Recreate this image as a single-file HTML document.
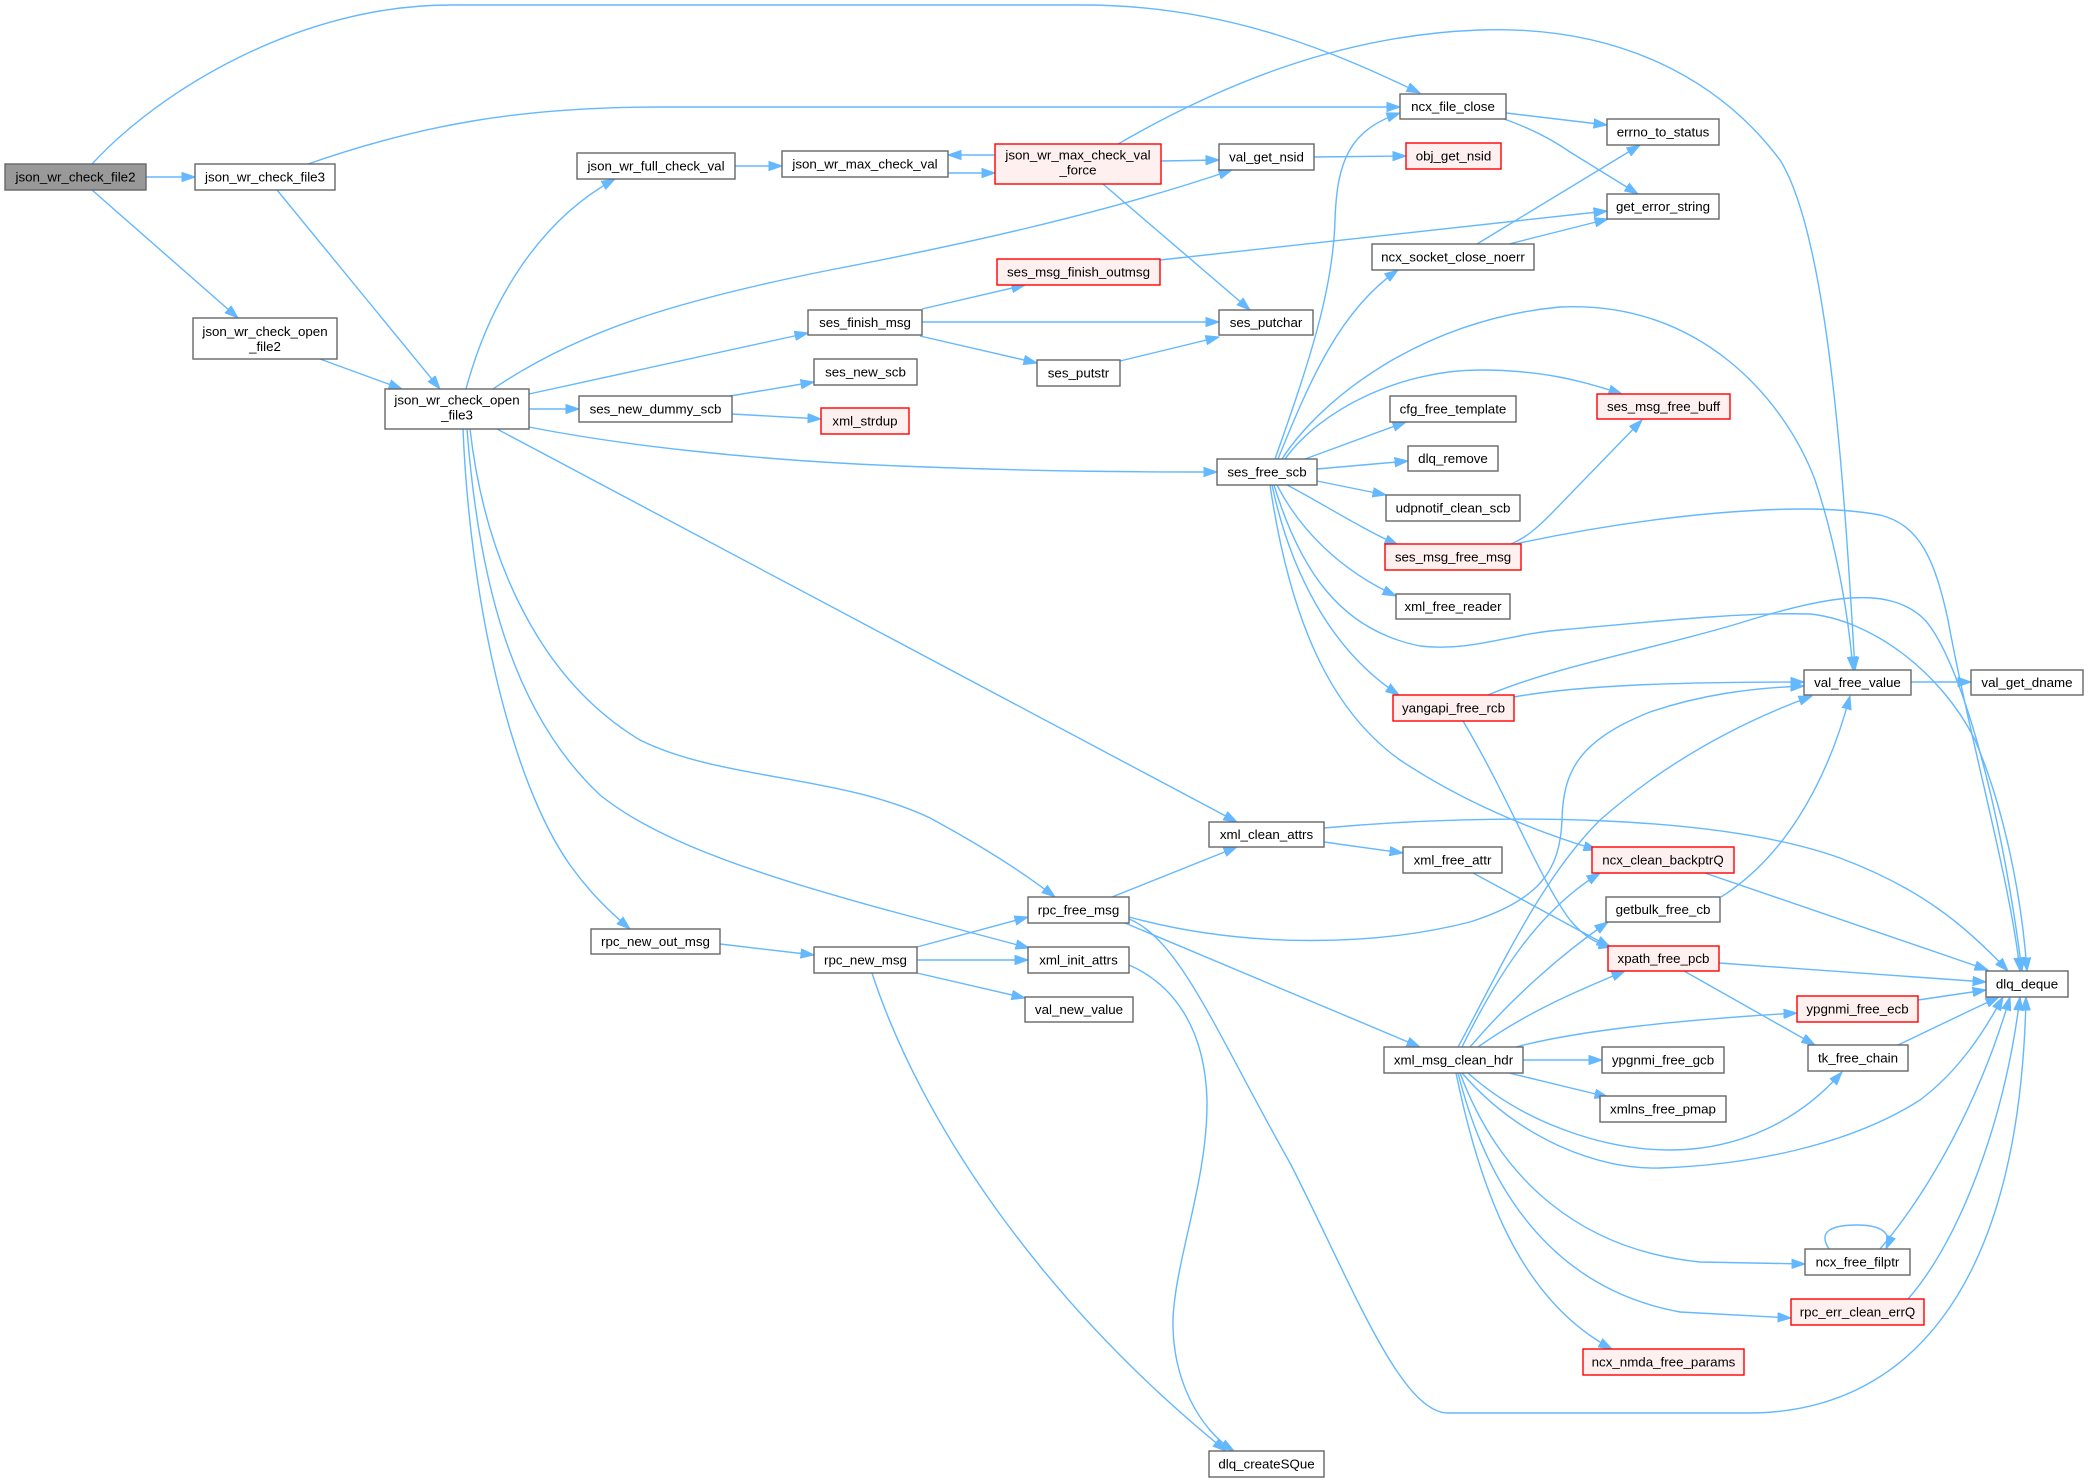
<!DOCTYPE html>
<html><head><meta charset="utf-8"><style>
html,body{margin:0;padding:0;background:#fff;}
svg{display:block;}
.e{fill:none;stroke:#63b8ff;stroke-width:1.4;}
.n{fill:#fff;stroke:#666;stroke-width:1.4;}
.r{fill:#fff0f0;stroke:#ff0000;stroke-width:1.4;}
.g{fill:#999;stroke:#666;stroke-width:1.4;}
text{font-family:"Liberation Sans",Arial,sans-serif;font-size:13.33px;fill:#000;text-anchor:middle;}
</style></head><body>
<svg width="2088" height="1482" viewBox="0 0 2088 1482" xmlns="http://www.w3.org/2000/svg">
<defs><marker id="a" viewBox="0 0 14 10" refX="13.5" refY="5" markerWidth="14" markerHeight="10" orient="auto" markerUnits="userSpaceOnUse"><path d="M0,0.3 L13.5,5 L0,9.7 z" fill="#63b8ff" stroke="#63b8ff" stroke-width="1"/></marker></defs>
<g marker-end="url(#a)">
<path class="e" d="M92,164 C160,90 300,5 450,5 L1083,5 C1230,5 1340,55 1420,93"/>
<path class="e" d="M146,177 L195,177"/>
<path class="e" d="M92,190 L238,318"/>
<path class="e" d="M308,164 C420,125 520,107 660,107 L1400,107"/>
<path class="e" d="M277,190 L440,389"/>
<path class="e" d="M320,359 L402,389"/>
<path class="e" d="M466,389 C490,300 540,220 615,179"/>
<path class="e" d="M735,166 L782,166"/>
<path class="e" d="M948,173 L995,173"/>
<path class="e" d="M995,155 L948,155"/>
<path class="e" d="M1161,161 L1219,160"/>
<path class="e" d="M1103,184 L1250,310"/>
<path class="e" d="M1118,144 C1220,85 1340,35 1480,30 C1620,25 1720,80 1780,160 C1830,240 1845,500 1855,670"/>
<path class="e" d="M493,389 C580,330 680,300 830,270 C950,247 1100,215 1232,170"/>
<path class="e" d="M529,394 L808,333"/>
<path class="e" d="M529,409 L579,409"/>
<path class="e" d="M529,427 C620,445 750,460 900,466 C1050,472 1150,472 1217,472"/>
<path class="e" d="M497,429 L1237,822"/>
<path class="e" d="M470,429 C485,560 540,680 640,740 C720,780 840,775 930,818 C980,845 1020,870 1055,897"/>
<path class="e" d="M467,429 C480,600 520,720 600,795 C680,860 850,900 1029,948"/>
<path class="e" d="M463,429 C470,600 510,780 570,865 C590,893 610,912 630,929"/>
<path class="e" d="M720,944 L814,955"/>
<path class="e" d="M917,947 L1028,917"/>
<path class="e" d="M917,960 L1028,960"/>
<path class="e" d="M917,973 L1025,998"/>
<path class="e" d="M872,973 C920,1120 1040,1300 1226,1451"/>
<path class="e" d="M1129,965 C1175,985 1205,1030 1207,1100 C1208,1180 1175,1260 1173,1320 C1172,1380 1200,1430 1234,1451"/>
<path class="e" d="M1112,897 L1237,847"/>
<path class="e" d="M1129,917 C1250,950 1380,945 1470,922 C1540,900 1560,870 1562,820 C1563,770 1580,740 1650,712 C1700,695 1750,688 1804,686"/>
<path class="e" d="M1125,923 L1420,1047"/>
<path class="e" d="M1129,919 C1180,940 1215,1030 1290,1163 C1350,1280 1400,1413 1448,1413 L1748,1413 C1900,1413 2020,1300 2026,997"/>
<path class="e" d="M1324,842 L1403,853"/>
<path class="e" d="M1324,828 C1500,812 1720,815 1840,858 C1920,888 1965,925 2008,971"/>
<path class="e" d="M1473,873 L1610,947"/>
<path class="e" d="M1514,697 C1580,685 1680,682 1804,682"/>
<path class="e" d="M1488,695 C1560,665 1650,650 1740,623 C1830,595 1890,585 1925,620 C1960,660 2000,800 2022,971"/>
<path class="e" d="M1463,721 C1510,800 1540,880 1570,920 C1585,938 1598,944 1612,947"/>
<path class="e" d="M1270,485 C1290,620 1330,710 1400,760 C1460,800 1530,830 1597,850"/>
<path class="e" d="M1287,485 C1320,502 1360,528 1398,545"/>
<path class="e" d="M1277,485 C1300,530 1340,570 1396,596"/>
<path class="e" d="M1272,485 C1290,570 1330,650 1399,695"/>
<path class="e" d="M1274,485 C1300,570 1340,630 1420,646 C1470,652 1510,634 1560,630 C1650,622 1740,612 1810,614 C1870,620 1940,670 1975,740 C2005,810 2022,900 2027,971"/>
<path class="e" d="M1275,459 C1310,360 1333,290 1335,220 C1337,160 1350,130 1400,113"/>
<path class="e" d="M1278,459 C1310,380 1340,310 1398,270"/>
<path class="e" d="M1282,459 C1320,400 1420,320 1560,307 C1700,300 1785,400 1815,480 C1835,540 1848,610 1853,670"/>
<path class="e" d="M1285,459 C1320,410 1400,370 1480,370 C1540,370 1580,380 1622,394"/>
<path class="e" d="M1305,459 L1406,422"/>
<path class="e" d="M1317,469 L1408,461"/>
<path class="e" d="M1317,481 L1386,495"/>
<path class="e" d="M1511,544 C1525,538 1535,530 1550,515 L1642,420"/>
<path class="e" d="M1515,544 C1650,515 1800,500 1880,515 C1920,525 1935,560 1948,620 C1970,740 2010,880 2020,971"/>
<path class="e" d="M1506,113 L1607,125"/>
<path class="e" d="M1504,119 C1530,128 1550,138 1570,152 L1638,194"/>
<path class="e" d="M1314,157 L1406,156"/>
<path class="e" d="M1477,244 L1640,145"/>
<path class="e" d="M1509,244 L1608,219"/>
<path class="e" d="M1160,260 L1607,211"/>
<path class="e" d="M922,309 L1025,285"/>
<path class="e" d="M922,322 L1219,322"/>
<path class="e" d="M920,336 L1037,363"/>
<path class="e" d="M1120,361 L1219,337"/>
<path class="e" d="M730,396 L814,382"/>
<path class="e" d="M732,414 L821,419"/>
<path class="e" d="M1911,682 L1971,682"/>
<path class="e" d="M1721,897 C1780,860 1825,790 1850,696"/>
<path class="e" d="M1705,873 L1988,970"/>
<path class="e" d="M1719,963 L1986,982"/>
<path class="e" d="M1684,971 L1815,1045"/>
<path class="e" d="M1918,1000 L1986,990"/>
<path class="e" d="M1898,1045 C1930,1030 1960,1015 1999,997"/>
<path class="e" d="M1523,1060 L1602,1060"/>
<path class="e" d="M1509,1073 L1608,1097"/>
<path class="e" d="M1516,1047 C1580,1030 1680,1020 1797,1013"/>
<path class="e" d="M1478,1047 C1530,1010 1580,990 1625,971"/>
<path class="e" d="M1470,1047 C1510,1000 1560,955 1608,922"/>
<path class="e" d="M1462,1047 C1500,970 1540,910 1600,873"/>
<path class="e" d="M1458,1047 C1500,970 1540,880 1600,820 C1680,750 1760,715 1812,696"/>
<path class="e" d="M1468,1073 C1520,1120 1600,1150 1670,1150 C1740,1150 1800,1120 1842,1072"/>
<path class="e" d="M1462,1073 C1520,1140 1600,1170 1660,1168 C1750,1165 1850,1145 1920,1100 C1960,1070 1985,1030 2003,997"/>
<path class="e" d="M1460,1073 C1500,1180 1580,1250 1700,1262 L1805,1264"/>
<path class="e" d="M1458,1073 C1490,1200 1560,1290 1680,1312 L1791,1318"/>
<path class="e" d="M1456,1073 C1480,1190 1520,1300 1612,1349"/>
<path class="e" d="M1829,1249 C1818,1232 1830,1225 1857,1225 C1880,1225 1893,1232 1886,1249"/>
<path class="e" d="M1880,1249 C1930,1190 1980,1100 2010,997"/>
<path class="e" d="M1908,1299 C1960,1240 2005,1120 2020,997"/>
</g>

<rect class="g" x="5" y="164" width="141" height="26"/><text x="75.5" y="181.7">json_wr_check_file2</text>
<rect class="n" x="195" y="164" width="140" height="26"/><text x="265" y="181.7">json_wr_check_file3</text>
<rect class="n" x="193" y="318" width="144" height="41"/><text x="265" y="336">json_wr_check_open</text><text x="265" y="351">_file2</text>
<rect class="n" x="385" y="389" width="144" height="40"/><text x="457" y="404.5">json_wr_check_open</text><text x="457" y="419.5">_file3</text>
<rect class="n" x="577" y="153" width="158" height="26"/><text x="656" y="170.7">json_wr_full_check_val</text>
<rect class="n" x="782" y="151" width="166" height="26"/><text x="865" y="168.7">json_wr_max_check_val</text>
<rect class="r" x="995" y="144" width="166" height="40"/><text x="1078" y="159.7">json_wr_max_check_val</text><text x="1078" y="174.7">_force</text>
<rect class="n" x="1219" y="144" width="95" height="26"/><text x="1266.5" y="161.7">val_get_nsid</text>
<rect class="n" x="1400" y="94" width="106" height="25"/><text x="1453" y="111.2">ncx_file_close</text>
<rect class="n" x="1607" y="119" width="112" height="26"/><text x="1663" y="136.7">errno_to_status</text>
<rect class="r" x="1406" y="143" width="95" height="26"/><text x="1453.5" y="160.7">obj_get_nsid</text>
<rect class="n" x="1607" y="194" width="112" height="25"/><text x="1663" y="211.2">get_error_string</text>
<rect class="n" x="1372" y="244" width="162" height="26"/><text x="1453" y="261.7">ncx_socket_close_noerr</text>
<rect class="r" x="997" y="259" width="163" height="26"/><text x="1078.5" y="276.7">ses_msg_finish_outmsg</text>
<rect class="n" x="808" y="310" width="114" height="25"/><text x="865" y="327.2">ses_finish_msg</text>
<rect class="n" x="1219" y="310" width="94" height="25"/><text x="1266" y="327.2">ses_putchar</text>
<rect class="n" x="1037" y="360" width="83" height="26"/><text x="1078.5" y="377.7">ses_putstr</text>
<rect class="n" x="814" y="359" width="103" height="26"/><text x="865.5" y="376.7">ses_new_scb</text>
<rect class="n" x="579" y="396" width="153" height="26"/><text x="655.5" y="413.7">ses_new_dummy_scb</text>
<rect class="r" x="821" y="408" width="88" height="26"/><text x="865" y="425.7">xml_strdup</text>
<rect class="n" x="1217" y="459" width="100" height="26"/><text x="1267" y="476.7">ses_free_scb</text>
<rect class="n" x="1390" y="396" width="126" height="26"/><text x="1453" y="413.7">cfg_free_template</text>
<rect class="r" x="1597" y="394" width="133" height="25"/><text x="1663.5" y="411.2">ses_msg_free_buff</text>
<rect class="n" x="1408" y="446" width="90" height="25"/><text x="1453" y="463.2">dlq_remove</text>
<rect class="n" x="1386" y="495" width="134" height="26"/><text x="1453" y="512.7">udpnotif_clean_scb</text>
<rect class="r" x="1385" y="544" width="136" height="26"/><text x="1453" y="561.7">ses_msg_free_msg</text>
<rect class="n" x="1396" y="594" width="114" height="25"/><text x="1453" y="611.2">xml_free_reader</text>
<rect class="r" x="1393" y="695" width="121" height="26"/><text x="1453.5" y="712.7">yangapi_free_rcb</text>
<rect class="n" x="1804" y="670" width="107" height="25"/><text x="1857.5" y="687.2">val_free_value</text>
<rect class="n" x="1971" y="670" width="112" height="25"/><text x="2027" y="687.2">val_get_dname</text>
<rect class="n" x="1209" y="822" width="115" height="25"/><text x="1266.5" y="839.2">xml_clean_attrs</text>
<rect class="n" x="1403" y="847" width="99" height="26"/><text x="1452.5" y="864.7">xml_free_attr</text>
<rect class="r" x="1592" y="847" width="142" height="26"/><text x="1663" y="864.7">ncx_clean_backptrQ</text>
<rect class="n" x="1606" y="897" width="114" height="25"/><text x="1663" y="914.2">getbulk_free_cb</text>
<rect class="r" x="1608" y="946" width="111" height="25"/><text x="1663.5" y="963.2">xpath_free_pcb</text>
<rect class="n" x="1986" y="971" width="82" height="26"/><text x="2027" y="988.7">dlq_deque</text>
<rect class="r" x="1797" y="996" width="121" height="26"/><text x="1857.5" y="1013.7">ypgnmi_free_ecb</text>
<rect class="n" x="1808" y="1045" width="100" height="26"/><text x="1858" y="1062.7">tk_free_chain</text>
<rect class="n" x="1602" y="1047" width="122" height="26"/><text x="1663" y="1064.7">ypgnmi_free_gcb</text>
<rect class="n" x="1600" y="1096" width="126" height="26"/><text x="1663" y="1113.7">xmlns_free_pmap</text>
<rect class="n" x="1384" y="1047" width="139" height="26"/><text x="1453.5" y="1064.7">xml_msg_clean_hdr</text>
<rect class="n" x="1805" y="1249" width="105" height="26"/><text x="1857.5" y="1266.7">ncx_free_filptr</text>
<rect class="r" x="1791" y="1299" width="133" height="26"/><text x="1857.5" y="1316.7">rpc_err_clean_errQ</text>
<rect class="r" x="1583" y="1349" width="161" height="26"/><text x="1663.5" y="1366.7">ncx_nmda_free_params</text>
<rect class="n" x="1028" y="897" width="101" height="26"/><text x="1078.5" y="914.7">rpc_free_msg</text>
<rect class="n" x="1028" y="947" width="101" height="26"/><text x="1078.5" y="964.7">xml_init_attrs</text>
<rect class="n" x="1025" y="997" width="108" height="25"/><text x="1079" y="1014.2">val_new_value</text>
<rect class="n" x="591" y="929" width="129" height="25"/><text x="655.5" y="946.2">rpc_new_out_msg</text>
<rect class="n" x="814" y="947" width="103" height="26"/><text x="865.5" y="964.7">rpc_new_msg</text>
<rect class="n" x="1209" y="1451" width="115" height="26"/><text x="1266.5" y="1468.7">dlq_createSQue</text>
</svg>
</body></html>
